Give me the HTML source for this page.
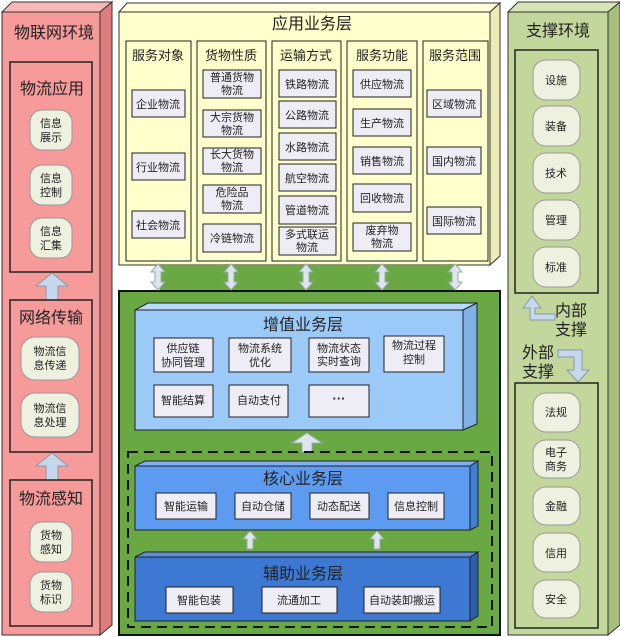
<!DOCTYPE html>
<html><head><meta charset="utf-8"><style>
html,body{margin:0;padding:0;background:#fff;}
svg{display:block;}
text{font-family:"Liberation Sans","Noto Sans CJK SC",sans-serif;fill:#222;text-anchor:middle;}
.t16{font-size:16px;}
.t13{font-size:13px;}
.t11{font-size:11px;}
.box{fill:#eeecf4;stroke:#222;stroke-width:1;}
.pill{fill:#eef0e0;stroke:#999;stroke-width:1;}
</style></head><body>
<svg width="620" height="637" viewBox="0 0 620 637" xmlns="http://www.w3.org/2000/svg">
<polygon points="2,12 12,2 112,2 100,12" fill="#f9b8b8" stroke="#333"/>
<polygon points="100,12 112,2 112,625 100,635" fill="#e07c7c" stroke="#333"/>
<rect x="2" y="12" width="98" height="623" fill="#f69a9a" stroke="#333"/>
<text class="t16" x="54" y="38">物联网环境</text>
<rect x="10" y="62" width="82" height="210" fill="#f69a9a" stroke="#222" stroke-width="1.5"/>
<text class="t16" x="52" y="94">物流应用</text>
<rect class="pill" x="30" y="110" width="42" height="40" rx="12"/>
<text class="t11" x="51" y="127">信息</text><text class="t11" x="51" y="141">展示</text>
<rect class="pill" x="30" y="165" width="42" height="40" rx="12"/>
<text class="t11" x="51" y="182">信息</text><text class="t11" x="51" y="196">控制</text>
<rect class="pill" x="30" y="218" width="42" height="40" rx="12"/>
<text class="t11" x="51" y="235">信息</text><text class="t11" x="51" y="249">汇集</text>
<polygon points="46,300 46,286 36,286 52,273 68,286 58,286 58,300" fill="#c8d8ec" stroke="#8899aa"/>
<rect x="10" y="300" width="82" height="152" fill="#f69a9a" stroke="#222" stroke-width="1.5"/>
<text class="t16" x="51" y="323">网络传输</text>
<rect class="pill" x="21" y="337" width="58" height="43" rx="14"/>
<text class="t11" x="50" y="355">物流信</text><text class="t11" x="50" y="369">息传递</text>
<rect class="pill" x="21" y="393" width="58" height="44" rx="14"/>
<text class="t11" x="50" y="412">物流信</text><text class="t11" x="50" y="426">息处理</text>
<polygon points="46,480 46,466 36,466 52,453 68,466 58,466 58,480" fill="#c8d8ec" stroke="#8899aa"/>
<rect x="10" y="480" width="82" height="146" fill="#f69a9a" stroke="#222" stroke-width="1.5"/>
<text class="t16" x="51" y="504">物流感知</text>
<rect class="pill" x="30" y="522" width="42" height="40" rx="12"/>
<text class="t11" x="51" y="539">货物</text><text class="t11" x="51" y="553">感知</text>
<rect class="pill" x="30" y="572" width="42" height="40" rx="12"/>
<text class="t11" x="51" y="589">货物</text><text class="t11" x="51" y="603">标识</text>

<polygon points="508,12 518,2 620,2 608,12" fill="#d6e4b8" stroke="#333"/>
<polygon points="608,12 620,2 620,625 608,635" fill="#a8bf7c" stroke="#333"/>
<rect x="508" y="12" width="100" height="623" fill="#c3d69b" stroke="#333"/>
<text class="t16" x="558" y="36">支撑环境</text>
<rect x="515" y="50" width="83" height="243" fill="#c3d69b" stroke="#222" stroke-width="1.5"/>
<rect class="pill" x="533" y="60" width="47" height="40" rx="13"/><text class="t11" x="556" y="84">设施</text>
<rect class="pill" x="533" y="106" width="47" height="40" rx="13"/><text class="t11" x="556" y="130">装备</text>
<rect class="pill" x="533" y="153" width="47" height="40" rx="13"/><text class="t11" x="556" y="177">技术</text>
<rect class="pill" x="533" y="200" width="47" height="40" rx="13"/><text class="t11" x="556" y="224">管理</text>
<rect class="pill" x="533" y="247" width="47" height="40" rx="13"/><text class="t11" x="556" y="271">标准</text>
<polygon points="555,320 530,320 530,308 523,308 532,296 541,308 535,308 535,314 555,314" fill="#c8d8ec" stroke="#8899aa"/>
<text class="t16" x="571" y="316">内部</text><text class="t16" x="571" y="335">支撑</text>
<text class="t16" x="538" y="358">外部</text><text class="t16" x="538" y="377">支撑</text>
<polygon points="558,350 582,350 582,370 589,370 578,382 567,370 574,370 574,357 558,357" fill="#c8d8ec" stroke="#8899aa"/>
<rect x="515" y="383" width="83" height="245" fill="#c3d69b" stroke="#222" stroke-width="1.5"/>
<rect class="pill" x="533" y="393" width="47" height="39" rx="13"/><text class="t11" x="556" y="416">法规</text>
<rect class="pill" x="533" y="440" width="47" height="38" rx="13"/><text class="t11" x="556" y="456">电子</text><text class="t11" x="556" y="470">商务</text>
<rect class="pill" x="533" y="487" width="47" height="38" rx="13"/><text class="t11" x="556" y="510">金融</text>
<rect class="pill" x="533" y="533" width="47" height="39" rx="13"/><text class="t11" x="556" y="557">信用</text>
<rect class="pill" x="533" y="580" width="47" height="38" rx="13"/><text class="t11" x="556" y="603">安全</text>

<polygon points="119,12 127,3 500,3 490,12" fill="#ffffd8" stroke="#333"/>
<polygon points="490,12 500,3 500,256 490,265" fill="#ececb4" stroke="#333"/>
<rect x="119" y="12" width="371" height="253" fill="#ffffcc" stroke="#333"/>
<text class="t16" x="312" y="29">应用业务层</text>
<g fill="#ffffcc" stroke="#222">
<rect x="126" y="41" width="65" height="220"/>
<rect x="197" y="41" width="69" height="220"/>
<rect x="272" y="41" width="69" height="220"/>
<rect x="347" y="41" width="70" height="220"/>
<rect x="423" y="41" width="65" height="220"/>
</g>
<text class="t13" x="158" y="60">服务对象</text>
<text class="t13" x="231" y="60">货物性质</text>
<text class="t13" x="306" y="60">运输方式</text>
<text class="t13" x="382" y="60">服务功能</text>
<text class="t13" x="455" y="60">服务范围</text>
<rect class="box" x="132" y="90" width="53" height="27"/><text class="t11" x="158" y="108">企业物流</text>
<rect class="box" x="132" y="153" width="53" height="27"/><text class="t11" x="158" y="171">行业物流</text>
<rect class="box" x="132" y="211" width="53" height="27"/><text class="t11" x="158" y="229">社会物流</text>
<rect class="box" x="203" y="70" width="58" height="28"/><text class="t11" x="232" y="81">普通货物</text><text class="t11" x="232" y="94">物流</text>
<rect class="box" x="203" y="110" width="58" height="27"/><text class="t11" x="232" y="121">大宗货物</text><text class="t11" x="232" y="134">物流</text>
<rect class="box" x="203" y="148" width="58" height="26"/><text class="t11" x="232" y="158">长大货物</text><text class="t11" x="232" y="171">物流</text>
<rect class="box" x="203" y="185" width="58" height="28"/><text class="t11" x="232" y="196">危险品</text><text class="t11" x="232" y="209">物流</text>
<rect class="box" x="203" y="224" width="58" height="28"/><text class="t11" x="232" y="242">冷链物流</text>
<rect class="box" x="279" y="70" width="57" height="27"/><text class="t11" x="307" y="88">铁路物流</text>
<rect class="box" x="279" y="101" width="57" height="27"/><text class="t11" x="307" y="119">公路物流</text>
<rect class="box" x="279" y="133" width="57" height="27"/><text class="t11" x="307" y="151">水路物流</text>
<rect class="box" x="279" y="164" width="57" height="27"/><text class="t11" x="307" y="182">航空物流</text>
<rect class="box" x="279" y="196" width="57" height="28"/><text class="t11" x="307" y="214">管道物流</text>
<rect class="box" x="279" y="227" width="57" height="28"/><text class="t11" x="307" y="238">多式联运</text><text class="t11" x="307" y="251">物流</text>
<rect class="box" x="353" y="70" width="58" height="27"/><text class="t11" x="382" y="88">供应物流</text>
<rect class="box" x="353" y="109" width="58" height="27"/><text class="t11" x="382" y="127">生产物流</text>
<rect class="box" x="353" y="147" width="58" height="27"/><text class="t11" x="382" y="165">销售物流</text>
<rect class="box" x="353" y="184" width="58" height="28"/><text class="t11" x="382" y="202">回收物流</text>
<rect class="box" x="353" y="223" width="58" height="28"/><text class="t11" x="382" y="234">废弃物</text><text class="t11" x="382" y="247">物流</text>
<rect class="box" x="427" y="90" width="54" height="27"/><text class="t11" x="454" y="108">区域物流</text>
<rect class="box" x="427" y="147" width="54" height="27"/><text class="t11" x="454" y="165">国内物流</text>
<rect class="box" x="427" y="207" width="54" height="27"/><text class="t11" x="454" y="225">国际物流</text>

<rect x="160" y="265" width="296" height="26" fill="#69a843"/>
<rect x="119" y="291" width="381" height="344" fill="#69a843" stroke="#111" stroke-width="2"/>
<g fill="#dde6ee" stroke="#9aa">
<polygon points="158,264 165,272 161,272 161,282 165,282 158,290 151,282 155,282 155,272 151,272"/>
<polygon points="231,264 238,272 234,272 234,282 238,282 231,290 224,282 228,282 228,272 224,272"/>
<polygon points="306,264 313,272 309,272 309,282 313,282 306,290 299,282 303,282 303,272 299,272"/>
<polygon points="382,264 389,272 385,272 385,282 389,282 382,290 375,282 379,282 379,272 375,272"/>
<polygon points="455,264 462,272 458,272 458,282 462,282 455,290 448,282 452,282 452,272 448,272"/>
</g>
<polygon points="135,310 148,303 477,303 463,310" fill="#b8dafc" stroke="#222"/>
<polygon points="463,310 477,303 477,424 463,430" fill="#7fb3e8" stroke="#222"/>
<rect x="135" y="310" width="328" height="120" fill="#9ccaf8" stroke="#222"/>
<text class="t16" x="303" y="330">增值业务层</text>
<rect class="box" x="154" y="338" width="59" height="34"/><text class="t11" x="183" y="352">供应链</text><text class="t11" x="183" y="366">协同管理</text>
<rect class="box" x="229" y="338" width="62" height="34"/><text class="t11" x="260" y="352">物流系统</text><text class="t11" x="260" y="366">优化</text>
<rect class="box" x="309" y="338" width="60" height="34"/><text class="t11" x="339" y="352">物流状态</text><text class="t11" x="339" y="365">实时查询</text>
<rect class="box" x="384" y="336" width="60" height="36"/><text class="t11" x="414" y="349">物流过程</text><text class="t11" x="414" y="363">控制</text>
<rect class="box" x="154" y="385" width="59" height="32"/><text class="t11" x="183" y="404">智能结算</text>
<rect class="box" x="229" y="385" width="59" height="32"/><text class="t11" x="259" y="404">自动支付</text>
<rect class="box" x="309" y="385" width="60" height="32"/><text class="t13" x="339" y="403" style="font-weight:bold">···</text>
<polygon points="302,452 302,443 292,443 307,433 322,443 312,443 312,452" fill="#dde6ee" stroke="#9aa"/>
<rect x="128" y="452" width="364" height="175" fill="none" stroke="#111" stroke-width="2" stroke-dasharray="10,6"/>
<polygon points="135,466 145,461 478,461 470,466" fill="#7fb0f5" stroke="#222"/>
<polygon points="470,466 478,461 478,526 470,530" fill="#3f7fd8" stroke="#222"/>
<rect x="135" y="466" width="335" height="64" fill="#5c9bf0" stroke="#222"/>
<text class="t16" x="303" y="484">核心业务层</text>
<rect class="box" x="156" y="493" width="60" height="26"/><text class="t11" x="186" y="510">智能运输</text>
<rect class="box" x="235" y="493" width="56" height="26"/><text class="t11" x="263" y="510">自动仓储</text>
<rect class="box" x="310" y="493" width="59" height="26"/><text class="t11" x="339" y="510">动态配送</text>
<rect class="box" x="388" y="493" width="56" height="26"/><text class="t11" x="416" y="510">信息控制</text>
<polygon points="247,549 247,539 243,539 250,531 257,539 253,539 253,549" fill="#dde6ee" stroke="#9aa"/>
<polygon points="374,549 374,539 370,539 377,531 384,539 380,539 380,549" fill="#dde6ee" stroke="#9aa"/>
<polygon points="135,557 145,552 478,552 470,557" fill="#5a90dc" stroke="#222"/>
<polygon points="470,557 478,552 478,616 470,621" fill="#2a5fb0" stroke="#222"/>
<rect x="135" y="557" width="335" height="64" fill="#3d78d2" stroke="#222"/>
<text class="t16" x="303" y="579">辅助业务层</text>
<rect class="box" x="166" y="587" width="67" height="26"/><text class="t11" x="199" y="604">智能包装</text>
<rect class="box" x="262" y="587" width="75" height="26"/><text class="t11" x="299" y="604">流通加工</text>
<rect class="box" x="364" y="587" width="76" height="26"/><text class="t11" x="402" y="604">自动装卸搬运</text>
</svg>
</body></html>
